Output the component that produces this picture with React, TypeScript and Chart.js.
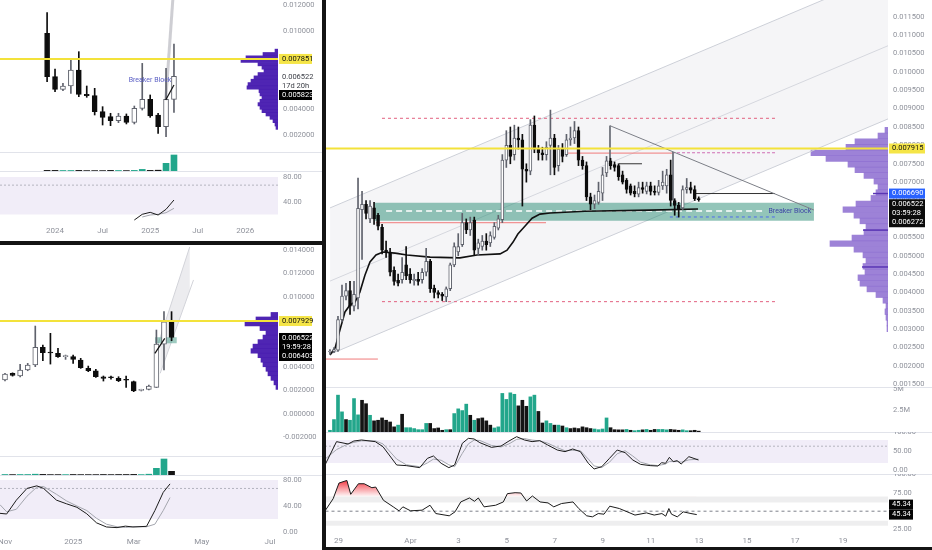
import React, { useEffect, useRef } from 'react';
import { Chart, registerables } from 'chart.js';

Chart.register(...registerables);

const FONT = 'Roboto, "Liberation Sans", Arial, sans-serif';
const TICK = '#8f929b';
const FS = 7.5;
const UP_BODY = '#ffffff';
const UP_LINE = '#5f626c';
const DOWN = '#0d0d0d';
const TEAL = '#22a68b';
const YELLOW = '#f3e23a';
const BAND = 'rgba(126,87,194,0.11)';

/* ================= MAIN PANEL (4h candles, x = days since 29 Mar) ================= */
const mainFirstDay = -1 / 3; // 28 Mar 16:00
const mainStepDay = 1 / 6; // 4 hours
const mainTickDays = [0, 3, 5, 7, 9, 11, 13, 15, 17, 19, 21];
const mainTickLabels = ['29', 'Apr', '3', '5', '7', '9', '11', '13', '15', '17', '19'];
const mainPriceTicks = [0.0015, 0.002, 0.0025, 0.003, 0.0035, 0.004, 0.0045, 0.005, 0.0055, 0.006, 0.0065, 0.007, 0.0075, 0.008, 0.0085, 0.009, 0.0095, 0.01, 0.0105, 0.011, 0.0115];

const mainOpen = [
  0.00238, 0.0024, 0.00243, 0.00326, 0.0039, 0.00405, 0.00363, 0.00385, 0.00625, 0.0064,
  0.006, 0.0063, 0.0061, 0.00577, 0.00515, 0.0051, 0.0046, 0.00433, 0.00435, 0.00475,
  0.0045, 0.00432, 0.00436, 0.00435, 0.00455, 0.00485, 0.00412, 0.004, 0.00395, 0.00388,
  0.0041, 0.00475, 0.0051, 0.0053, 0.0059, 0.0057, 0.00597, 0.0052, 0.00525, 0.0054,
  0.00535, 0.0055, 0.00575, 0.00598, 0.0076, 0.008, 0.00775, 0.0082, 0.00815, 0.00735,
  0.0073, 0.00855, 0.0079, 0.0078, 0.00775, 0.008, 0.0082, 0.00745, 0.0079, 0.00775,
  0.00815, 0.0082, 0.0084, 0.0076, 0.00745, 0.0066, 0.0064, 0.00645, 0.0067, 0.00725,
  0.00758, 0.00748, 0.00745, 0.0072, 0.00705, 0.0069, 0.00675, 0.00667, 0.00685, 0.00675,
  0.0069, 0.00675, 0.00672, 0.0069, 0.0069, 0.0072, 0.0065, 0.00637, 0.0063, 0.0068,
  0.00685, 0.0068, 0.00655,
];
const mainHigh = [
  0.00245, 0.0025, 0.00335, 0.0042, 0.00425, 0.0043, 0.0043, 0.00711, 0.00675, 0.0065,
  0.0065, 0.00645, 0.00615, 0.00585, 0.0054, 0.0052, 0.0047, 0.0045, 0.00495, 0.00525,
  0.00465, 0.0045, 0.00455, 0.00465, 0.0052, 0.0049, 0.0042, 0.00405, 0.004, 0.00415,
  0.0048, 0.00535, 0.0056, 0.00615, 0.006, 0.00605, 0.00605, 0.00545, 0.00555, 0.0056,
  0.00565, 0.0059, 0.0061, 0.00775, 0.0084, 0.0085, 0.00855, 0.0085, 0.0083, 0.0075,
  0.0087, 0.0088, 0.008, 0.00795, 0.0081, 0.00896, 0.0083, 0.008, 0.00805, 0.0083,
  0.0085, 0.00865, 0.0085, 0.0077, 0.00755, 0.0067, 0.00665, 0.007, 0.0074, 0.0077,
  0.00765, 0.00755, 0.0075, 0.0073, 0.0071, 0.00695, 0.0069, 0.007, 0.007, 0.007,
  0.007, 0.0069, 0.00705, 0.0073, 0.00735, 0.0076, 0.00655, 0.00645, 0.0069, 0.0071,
  0.007, 0.0069, 0.0066,
];
const mainLow = [
  0.00232, 0.00236, 0.0024, 0.0032, 0.0038, 0.0034, 0.0035, 0.00355, 0.0049, 0.006,
  0.0059, 0.00585, 0.0057, 0.00505, 0.00495, 0.00445, 0.0042, 0.00418, 0.00425, 0.00435,
  0.00425, 0.0042, 0.0042, 0.00425, 0.00445, 0.004, 0.00385, 0.00385, 0.00378, 0.00375,
  0.00405, 0.0047, 0.005, 0.00525, 0.0056, 0.00555, 0.005, 0.005, 0.00515, 0.00515,
  0.00525, 0.00545, 0.0057, 0.0059, 0.0074, 0.0075, 0.0076, 0.0079, 0.00635, 0.007,
  0.0072, 0.0078, 0.0076, 0.0076, 0.0076, 0.0072, 0.0072, 0.0073, 0.00755, 0.0077,
  0.008, 0.00805, 0.00745, 0.00735, 0.0065, 0.00625, 0.00628, 0.0064, 0.0065, 0.00715,
  0.00735, 0.0073, 0.00705, 0.00695, 0.0067, 0.00665, 0.0066, 0.0066, 0.0067, 0.00668,
  0.00665, 0.00665, 0.00665, 0.0068, 0.0067, 0.00635, 0.0061, 0.00605, 0.00625, 0.0067,
  0.0067, 0.0065, 0.00648,
];
const mainClose = [
  0.0024, 0.00245, 0.00326, 0.0039, 0.00405, 0.00363, 0.00395, 0.00629, 0.0064, 0.00615,
  0.00635, 0.006, 0.0058, 0.00515, 0.0051, 0.00455, 0.0043, 0.00425, 0.00455, 0.00445,
  0.00435, 0.00436, 0.0043, 0.00455, 0.00485, 0.0041, 0.004, 0.00395, 0.0039, 0.0041,
  0.00475, 0.00525, 0.00525, 0.0059, 0.0057, 0.0059, 0.00515, 0.00535, 0.0054, 0.0053,
  0.00555, 0.0058, 0.006, 0.0076, 0.008, 0.0077, 0.0082, 0.00815, 0.00735, 0.0073,
  0.00855, 0.0079, 0.0078, 0.00775, 0.00795, 0.0082, 0.0074, 0.0079, 0.0077, 0.00815,
  0.0082, 0.0084, 0.0076, 0.00745, 0.0066, 0.0064, 0.0065, 0.00675, 0.0072, 0.00758,
  0.00745, 0.0074, 0.00715, 0.007, 0.0068, 0.0067, 0.00668, 0.00685, 0.0068, 0.0069,
  0.00675, 0.00672, 0.0069, 0.007, 0.0072, 0.0065, 0.00637, 0.00628, 0.0068, 0.00685,
  0.00678, 0.00655, 0.006522,
];
const mainVolume = [
  0.2, 1.45, 4.3, 2.35, 1.45, 1.37, 3.9, 2.0, 3.7, 3.3,
  1.95, 1.3, 1.37, 1.64, 1.37, 1.17, 0.6, 0.8, 2.07, 0.5,
  0.5, 0.4, 0.27, 0.27, 1.0, 1.0, 0.4, 0.47, 0.2, 0.27,
  0.27, 2.15, 2.7, 2.5, 3.25, 1.95, 1.37, 1.56, 1.64, 1.3,
  0.8, 0.47, 0.6, 4.5, 3.8, 4.57, 4.4, 3.05, 3.7, 3.0,
  4.1, 4.3, 2.4, 1.05, 1.3, 1.0, 0.8, 0.8, 0.7, 0.5,
  0.4, 0.47, 0.4, 0.6, 0.5, 0.4, 0.35, 0.27, 0.35, 1.64,
  0.5, 0.27, 0.25, 0.25, 0.3, 0.2, 0.15, 0.2, 0.25, 0.3,
  0.2, 0.3, 0.3, 0.3, 0.25, 0.3, 0.25, 0.2, 0.25, 0.15,
  0.15, 0.2, 0.1,
];
const mainVolumeUp = [
  1, 1, 1, 1, 0, 1, 1, 1, 0, 0,
  1, 0, 0, 0, 0, 0, 0, 1, 0, 1,
  1, 1, 1, 1, 1, 0, 0, 0, 0, 1,
  0, 1, 1, 1, 1, 0, 1, 0, 0, 0,
  0, 1, 1, 1, 1, 1, 1, 0, 0, 0,
  1, 1, 0, 0, 1, 1, 0, 1, 0, 1,
  0, 0, 0, 0, 0, 0, 1, 1, 1, 1,
  0, 0, 0, 0, 1, 0, 1, 1, 0, 1,
  0, 0, 1, 1, 1, 0, 0, 0, 1, 1,
  0, 0, 0,
];
const mainMaDays = [-0.33, -0.12, 0.08, 0.29, 0.5, 0.71, 0.91, 1.12, 1.33, 1.58, 1.87, 2.37, 2.87, 3.83, 5.07, 5.78, 6.74, 7.03, 7.28, 7.48, 7.78, 8.07, 8.4, 8.82, 10.27, 12.97, 14.97];
const mainMaValues = [0.0023, 0.00249, 0.00298, 0.00347, 0.00366, 0.00374, 0.00401, 0.00447, 0.00483, 0.00502, 0.0051, 0.00507, 0.00502, 0.00496, 0.00494, 0.00502, 0.00505, 0.00515, 0.00537, 0.00559, 0.00581, 0.00602, 0.00613, 0.00616, 0.00621, 0.00624, 0.00627];

const mainStochDays = [-0.54, -0.06, 0.42, 0.66, 0.98, 1.55, 1.87, 2.44, 2.84, 3.4, 3.72, 3.97, 4.29, 4.61, 4.85, 5.17, 5.42, 5.66, 5.9, 6.38, 6.78, 7.11, 7.43, 7.75, 8.07, 8.39, 8.72, 9.12, 9.44, 9.76, 10.08, 10.41, 10.65, 10.97, 11.29, 11.61, 11.94, 12.26, 12.58, 12.98, 13.3, 13.46, 13.62, 13.78, 13.94, 14.1, 14.27, 14.59, 14.99];
const mainStochK = [14.5, 75.9, 69.7, 77.6, 80.3, 75.9, 62.7, 14.5, 12.8, 7.5, 32.0, 38.2, 18.9, 7.5, 14.5, 71.5, 84.6, 82.9, 73.2, 60.9, 64.4, 77.6, 89.0, 80.3, 75.9, 78.5, 67.1, 53.9, 49.6, 56.6, 49.6, 18.9, 4.0, 10.1, 32.0, 53.9, 46.9, 27.6, 16.2, 12.8, 11.8, 20.6, 18.9, 34.6, 23.2, 25.9, 17.1, 36.4, 27.6];
const mainStochD = [30, 55, 70, 74, 78, 78, 70, 30, 15, 10, 20, 30, 27, 15, 10, 45, 70, 80, 79, 66, 62, 70, 82, 84, 80, 78, 72, 60, 52, 53, 52, 30, 12, 8, 22, 44, 52, 38, 22, 15, 13, 15, 17, 24, 24, 24, 22, 28, 30];

const mainRsiDays = [-0.54, -0.22, 0.02, 0.35, 0.51, 0.83, 1.07, 1.39, 1.55, 1.87, 2.28, 2.52, 2.68, 3.0, 3.48, 3.81, 4.05, 4.61, 4.85, 5.09, 5.45, 5.66, 5.82, 6.06, 6.54, 6.86, 7.03, 7.35, 7.59, 7.83, 8.07, 8.39, 8.72, 8.96, 9.28, 9.76, 10.0, 10.33, 10.57, 10.81, 11.05, 11.29, 11.69, 12.34, 12.82, 13.14, 13.46, 13.62, 13.75, 13.86, 14.1, 14.35, 14.67, 14.91];
const mainRsi = [51.4, 67.1, 88.3, 91.9, 73.0, 87.4, 87.4, 82.0, 82.9, 64.9, 55.9, 50.5, 55.9, 50.5, 51.4, 58.1, 46.8, 43.7, 49.1, 62.6, 68.0, 63.5, 68.0, 55.9, 58.1, 62.6, 73.9, 75.2, 74.8, 63.9, 70.7, 62.6, 61.3, 55.9, 60.4, 62.6, 53.6, 43.7, 42.3, 46.8, 45.9, 56.8, 53.6, 44.7, 47.7, 44.7, 46.8, 43.2, 53.6, 45.9, 42.3, 49.1, 46.8, 45.34];

const mainProfilePrices = [0.0087, 0.00852, 0.00834, 0.00816, 0.00798, 0.0078, 0.00762, 0.00744, 0.00726, 0.00708, 0.0069, 0.00672, 0.00654, 0.00636, 0.00618, 0.006, 0.00582, 0.00564, 0.00546, 0.00528, 0.0051, 0.00492, 0.00474, 0.00456, 0.00438, 0.0042, 0.00402, 0.00384, 0.00366, 0.00348, 0.0033, 0.00312, 0.00294, 0.00276, 0.00258, 0.0024];
const mainProfileVolume = [3, 10, 33, 42, 77, 62, 40, 33, 24, 14, 10, 12, 17, 32, 45, 34, 28, 22, 24, 36, 58, 34, 25, 22, 25, 23, 30, 28, 21, 12, 5, 2, 3, 2, 1, 1];
const mainProfileMarkPrices = [0.00669, 0.00553, 0.00436];
const mainProfileMarkVolume = [15, 25, 26];

// drawings on the main chart (x in days, y in price)
const mainYellow = 0.007915;
const mainChannelDays = [-0.33, 22.87];
const mainChannelUpper = [0.0063, 0.0127];
const mainChannelMid = [0.00431, 0.01071];
const mainChannelLower = [0.00232, 0.00872];
const mainZoneDays = [1.54, 19.79];
const mainZoneTop = 0.00644;
const mainZoneBottom = 0.00595;
const mainZoneMidDays = [2.0, 17.8];
const mainZoneMid = 0.006216;
const mainRangeDays = [1.83, 18.25];
const mainRangeHigh = 0.008737;
const mainRangeLow = 0.00375;
const mainBlueDays = [13.8, 18.25];
const mainBlueLevel = 0.006053;
const mainRedSegStart = [-0.54, 1.58, 9.44];
const mainRedSegEnd = [1.66, 8.65, 13.89];
const mainRedSegLevel = [0.002189, 0.005897, 0.00779];
const mainPinkDays = [13.89, 18.25];
const mainPinkLevel = 0.0078;
const mainTriangleDays = [11.31, 19.79];
const mainTrianglePrices = [0.008535, 0.006242];
const mainVertDays = [11.31, 13.93];
const mainVertTop = [0.008535, 0.00782];
const mainVertBottom = [0.00744, 0.00651];
const mainBlackSegStart = [11.68, 14.84];
const mainBlackSegEnd = [12.64, 18.17];
const mainBlackSegLevel = [0.0075, 0.006691];

/* ================= TOP-LEFT (monthly, x = months since Jan 2024) ================= */
const tlFirstMonth = -1; // Dec 2023
const tlTickMonths = [0, 6, 12, 18, 24];
const tlTickLabels = ['2024', 'Jul', '2025', 'Jul', '2026'];
const tlPriceTicks = [0.002, 0.004, 0.01, 0.012];
const tlOpen = [0.00982, 0.00649, 0.00551, 0.00577, 0.007, 0.00513, 0.00503, 0.0038, 0.00341, 0.0031, 0.00346, 0.00297, 0.00405, 0.00474, 0.00354, 0.00264, 0.00474];
const tlHigh = [0.01141, 0.00708, 0.00598, 0.00785, 0.00841, 0.00577, 0.00559, 0.00418, 0.00367, 0.00367, 0.00362, 0.00423, 0.00751, 0.00508, 0.00367, 0.00713, 0.009];
const tlLow = [0.0061, 0.00533, 0.00541, 0.0052, 0.00495, 0.0049, 0.00354, 0.00277, 0.00272, 0.00295, 0.00285, 0.00285, 0.00392, 0.00336, 0.00213, 0.00187, 0.00374];
const tlClose = [0.00649, 0.00551, 0.00577, 0.007, 0.00513, 0.00503, 0.0038, 0.00336, 0.0031, 0.00346, 0.00297, 0.00405, 0.00474, 0.00346, 0.00264, 0.00474, 0.00652];
const tlVolume = [0.3, 0.3, 0.25, 0.25, 0.3, 0.2, 0.2, 0.2, 0.3, 0.25, 0.2, 0.3, 0.8, 0.3, 0.4, 3.85, 8.0];
const tlStochKMonths = [10, 11, 12, 13, 14, 15];
const tlStochK = [11.2, 20.3, 23.5, 19.2, 28.3, 43.2];
const tlStochDMonths = [11, 12, 13, 14, 15];
const tlStochD = [16, 19.2, 20.3, 22.9, 29.9];
const tlProfilePrices = [0.0088, 0.0085, 0.0082, 0.0079, 0.0076, 0.0073, 0.007, 0.0067, 0.0064, 0.0061, 0.0058, 0.0055, 0.0052, 0.0049, 0.0046, 0.0043, 0.004, 0.0037, 0.0034, 0.0031, 0.0028, 0.0025, 0.0022, 0.0019];
const tlProfileVolume = [3, 15, 32, 37, 20, 16, 14, 20, 24, 27, 30, 31, 19, 18, 16, 18, 20, 18, 16, 12, 8, 5, 3, 2];
const tlYellow = 0.007851;
const tlGrayLineMonths = [13.96, 14.9];
const tlGrayLinePrices = [0.00469, 0.0128];
const tlBlackLineMonths = [13.96, 15.0];
const tlBlackLinePrices = [0.00469, 0.00585];

/* ================= BOTTOM-LEFT (weekly, x = weeks since 4 Nov 2024) ================= */
const blTickWeeks = [0, 9, 17, 26, 35];
const blTickLabels = ['Nov', '2025', 'Mar', 'May', 'Jul'];
const blPriceTicks = [-0.002, 0, 0.002, 0.004, 0.01, 0.012, 0.014];
const blOpen = [0.00289, 0.00345, 0.00323, 0.00374, 0.00417, 0.00568, 0.00522, 0.00517, 0.00488, 0.00488, 0.0046, 0.00388, 0.00368, 0.00317, 0.0031, 0.00303, 0.00288, 0.00275, 0.002, 0.00209, 0.00226, 0.00596, 0.00787];
const blHigh = [0.00345, 0.0035, 0.00423, 0.00431, 0.0075, 0.00588, 0.00688, 0.0056, 0.00502, 0.00502, 0.00474, 0.00408, 0.0038, 0.00323, 0.00323, 0.00317, 0.00323, 0.0028, 0.0021, 0.00245, 0.00716, 0.00873, 0.00873];
const blLow = [0.0028, 0.00322, 0.00315, 0.00368, 0.00403, 0.00454, 0.00425, 0.00482, 0.00465, 0.00431, 0.00388, 0.0036, 0.00311, 0.0028, 0.00295, 0.00275, 0.00226, 0.00189, 0.00195, 0.00205, 0.00225, 0.00375, 0.00625];
const blClose = [0.0034, 0.00328, 0.00374, 0.00417, 0.00568, 0.00522, 0.0052, 0.00488, 0.0049, 0.00465, 0.00394, 0.00368, 0.00317, 0.00303, 0.00308, 0.00283, 0.00287, 0.00195, 0.00207, 0.00237, 0.00596, 0.00787, 0.00652];
const blVolume = [0.5, 0.4, 0.5, 0.5, 0.8, 0.6, 0.4, 0.4, 0.4, 0.5, 0.4, 0.4, 0.4, 0.5, 0.4, 0.5, 0.5, 0.6, 0.4, 0.8, 6.7, 16, 3.7];
const blStochWeeks = [-0.66, 0.22, 1.5, 2.9, 4.2, 5.1, 6.8, 8.1, 9.5, 10.8, 12.1, 13.4, 14.8, 15.9, 16.9, 18.7, 19.8, 20.9, 21.8];
const blStochK = [28.7, 27.7, 49, 67, 71, 67, 49, 43.5, 38, 28, 14, 7.7, 6.7, 9, 7.7, 8.7, 33, 61, 74];
const blStochD = [42, 31, 35, 55, 69, 70, 58, 48, 40, 33, 21, 12, 8, 7, 8, 8, 12, 33, 53];
const blProfilePrices = [0.00881, 0.00838, 0.00795, 0.00752, 0.00709, 0.00666, 0.00623, 0.0058, 0.00537, 0.00494, 0.00451, 0.00408, 0.00365, 0.00322, 0.00279, 0.00236, 0.00193];
const blProfileVolume = [7, 22, 33, 18, 12, 15, 20, 25, 27, 20, 17, 15, 12, 10, 7, 4, 2];
const blYellow = 0.007929;
const blChannelOuterWeeks = [19.8, 24.4];
const blChannelOuter = [0.00512, 0.01426];
const blChannelInnerWeeks = [20.5, 24.9];
const blChannelInner = [0.00346, 0.01144];
const blBlackLineWeeks = [19.8, 21.1];
const blBlackLinePrices = [0.005171, 0.006453];
const blZoneWeeks = [19.8, 22.7];
const blZonePrices = [0.006535, 0.006022];

/* ================= helpers ================= */
const pts = (xs: number[], ys: number[]) => xs.map((x, i) => ({ x, y: ys[i] }));
const hseg = (x0: number, x1: number, y: number) => [{ x: x0, y }, { x: x1, y }];

function L(data: any[], color: string, width: number, order: number, extra: any = {}) {
  return { type: 'line', data, borderColor: color, borderWidth: width, pointRadius: 0, pointHoverRadius: 0, tension: 0, fill: false, order, ...extra };
}

function candleSets(xs: number[], o: number[], h: number[], l: number[], c: number[], bodyW: number, order: number) {
  const up = c.map((v, i) => v >= o[i]);
  return [
    {
      type: 'bar', data: xs.map((x, i) => ({ x, y: [o[i], c[i]] })),
      backgroundColor: up.map((u) => (u ? UP_BODY : DOWN)),
      borderColor: up.map((u) => (u ? UP_LINE : DOWN)),
      borderWidth: 1, borderSkipped: false, barThickness: bodyW, minBarLength: 1, grouped: false, order,
    },
    {
      type: 'bar', data: xs.map((x, i) => ({ x, y: [l[i], h[i]] })),
      backgroundColor: up.map((u) => (u ? UP_LINE : DOWN)),
      barThickness: 1, grouped: false, order: order + 1,
    },
  ];
}

function volumeSet(xs: number[], v: number[], up: boolean[], w: number) {
  return {
    type: 'bar', data: xs.map((x, i) => ({ x, y: v[i] })),
    backgroundColor: up.map((u) => (u ? TEAL : '#141414')),
    barThickness: w, grouped: false, borderWidth: 0,
  };
}

function yRight(min: number, max: number, width: number, ticks?: number[], fmt?: (v: number) => string) {
  return {
    type: 'linear', position: 'right', min, max, display: true,
    grid: { display: false, drawTicks: false }, border: { display: false },
    ticks: {
      display: !!ticks, color: TICK, font: { size: FS, family: FONT }, padding: 5, autoSkip: false,
      callback: (v: any) => (fmt ? fmt(Number(v)) : String(v)),
    },
    afterBuildTicks: (s: any) => { if (ticks) s.ticks = ticks.map((v) => ({ value: v })); },
    afterFit: (s: any) => { s.width = width; s.paddingTop = 0; s.paddingBottom = 0; },
  };
}

function xBottom(min: number, max: number, tickVals?: number[], tickLabels?: string[], height = 0, pad = 4) {
  return {
    type: 'linear', min, max, offset: false, display: !!tickVals,
    grid: { display: false, drawTicks: false }, border: { display: false },
    ticks: {
      display: !!tickVals, color: TICK, font: { size: 8, family: FONT }, padding: pad,
      maxRotation: 0, minRotation: 0, autoSkip: false,
      callback: (v: any) => { const k = tickVals ? tickVals.indexOf(Number(v)) : -1; return k >= 0 && tickLabels ? tickLabels[k] : ''; },
    },
    afterBuildTicks: (s: any) => { if (tickVals) s.ticks = tickVals.map((v) => ({ value: v })); },
    afterFit: (s: any) => { s.height = height; s.paddingLeft = 0; s.paddingRight = 0; },
  };
}

const overlayPlugin = {
  id: 'overlay',
  afterDatasetsDraw(chart: any, _a: any, opts: any) {
    const texts = (opts && opts.texts) || [];
    const { ctx } = chart;
    const xs = chart.scales.x, ys = chart.scales.y;
    for (const t of texts) {
      ctx.save();
      ctx.font = `${t.size || 7}px ${FONT}`;
      ctx.fillStyle = t.color;
      ctx.textAlign = 'center';
      ctx.textBaseline = 'middle';
      ctx.fillText(t.text, xs.getPixelForValue(t.x), ys.getPixelForValue(t.y));
      ctx.restore();
    }
  },
  afterDraw(chart: any, _a: any, opts: any) {
    const boxes = (opts && opts.boxes) || [];
    const { ctx, chartArea } = chart;
    const ys = chart.scales.y;
    for (const b of boxes) {
      const lh = 9;
      const n = b.lines.length;
      const h = lh * n + 1;
      const yc = ys.getPixelForValue(b.value);
      const top = b.anchor === 'top' ? yc + (b.dy || 0) : yc - h / 2 + (b.dy || 0);
      const x0 = chartArea.right + 1;
      ctx.save();
      if (b.bg) {
        ctx.fillStyle = b.bg;
        ctx.fillRect(x0, top, b.width || 36, h);
      }
      ctx.fillStyle = b.color;
      ctx.font = `${FS}px ${FONT}`;
      ctx.textAlign = 'left';
      ctx.textBaseline = 'middle';
      b.lines.forEach((s: string, i: number) => ctx.fillText(s, x0 + 3, top + 0.5 + lh * (i + 0.5)));
      ctx.restore();
    }
  },
};

function base(datasets: any[], scales: any, overlay: any = {}, extra: any = {}) {
  return {
    type: 'bar',
    data: { datasets },
    options: {
      animation: false, responsive: false, maintainAspectRatio: false, events: [],
      layout: { padding: 0 },
      plugins: { legend: { display: false }, tooltip: { enabled: false }, overlay },
      scales,
      ...extra,
    },
    plugins: [overlayPlugin],
  };
}

function profileConfig(prices: number[], vols: number[], color: string, yMin: number, yMax: number, xMax: number, marks: any[] = []) {
  return {
    type: 'bar',
    data: {
      datasets: [
        ...marks,
        { type: 'bar', data: prices.map((p, i) => ({ x: vols[i], y: p })), backgroundColor: color, borderWidth: 0, barPercentage: 1, categoryPercentage: 1 },
      ],
    },
    options: {
      indexAxis: 'y', animation: false, responsive: false, maintainAspectRatio: false, events: [],
      layout: { padding: 0 },
      plugins: { legend: { display: false }, tooltip: { enabled: false } },
      scales: {
        x: { type: 'linear', reverse: true, min: 0, max: xMax, display: false },
        y: { type: 'linear', min: yMin, max: yMax, display: false },
      },
    },
  };
}

function bandSets(x0: number, x1: number, hi: number, lo: number, color: string, order = 40) {
  return [
    L(hseg(x0, x1, hi), 'rgba(0,0,0,0)', 1, order),
    L(hseg(x0, x1, lo), 'rgba(0,0,0,0)', 1, order, { fill: '-1', backgroundColor: color }),
  ];
}

/* ================= ranges ================= */
const M_X: [number, number] = [-0.54, 22.87];
const M_P: [number, number] = [0.001429, 0.011954];
const TL_X: [number, number] = [-6.94, 28.12];
const TL_P: [number, number] = [0.000693, 0.012385];
const BL_X: [number, number] = [-0.66, 36.06];
const BL_P: [number, number] = [-0.003607, 0.014427];

const mainTimes = mainOpen.map((_, i) => mainFirstDay + i * mainStepDay);
const tlTimes = tlOpen.map((_, i) => tlFirstMonth + i);
const blTimes = blOpen.map((_, i) => i);
const priceFmt = (v: number) => v.toFixed(6);

/* ================= chart configs ================= */
function mainPrice() {
  const ds: any[] = [
    L(pts(mainChannelDays, mainChannelUpper), '#cdd0d8', 1, 30),
    L(pts(mainChannelDays, mainChannelLower), '#cdd0d8', 1, 30, { fill: '-1', backgroundColor: 'rgba(118,122,150,0.075)' }),
    L(pts(mainChannelDays, mainChannelMid), '#d5d7de', 1, 29),
    L(hseg(mainZoneDays[0], mainZoneDays[1], mainZoneTop), 'rgba(0,0,0,0)', 1, 25),
    L(hseg(mainZoneDays[0], mainZoneDays[1], mainZoneBottom), 'rgba(0,0,0,0)', 1, 25, { fill: '-1', backgroundColor: 'rgba(40,140,115,0.5)' }),
    L(hseg(mainZoneMidDays[0], mainZoneMidDays[1], mainZoneMid), '#ffffff', 1.3, 24, { borderDash: [6, 4] }),
    L(hseg(mainRangeDays[0], mainRangeDays[1], mainRangeHigh), '#e2607f', 1, 20, { borderDash: [3, 3] }),
    L(hseg(mainRangeDays[0], mainRangeDays[1], mainRangeLow), '#e2607f', 1, 20, { borderDash: [3, 3] }),
    L(hseg(mainBlueDays[0], mainBlueDays[1], mainBlueLevel), '#4f6bed', 1, 20, { borderDash: [3, 3] }),
    L(hseg(mainPinkDays[0], mainPinkDays[1], mainPinkLevel), '#cf6fb5', 1.2, 20, { borderDash: [3, 2] }),
    ...mainRedSegLevel.map((lv, i) => L(hseg(mainRedSegStart[i], mainRedSegEnd[i], lv), '#f07b7b', 1, 20)),
    L(pts(mainTriangleDays, mainTrianglePrices), '#7b7e86', 1, 19),
    ...mainVertDays.map((d, i) => L([{ x: d, y: mainVertTop[i] }, { x: d, y: mainVertBottom[i] }], '#6e7179', 1, 19)),
    ...mainBlackSegLevel.map((lv, i) => L(hseg(mainBlackSegStart[i], mainBlackSegEnd[i], lv), '#333', 1, 19)),
    L(pts(mainMaDays, mainMaValues), '#111', 1.6, 8),
    ...candleSets(mainTimes, mainOpen, mainHigh, mainLow, mainClose, 3, 5),
    L(hseg(M_X[0], M_X[1], mainYellow), YELLOW, 2, 1),
  ];
  return base(ds, {
    x: xBottom(M_X[0], M_X[1]),
    y: yRight(M_P[0], M_P[1], 44, mainPriceTicks, priceFmt),
  }, {
    texts: [{ x: 18.79, y: 0.006207, text: 'Breaker Block', color: '#3f46a6', size: 7 }],
    boxes: [
      { value: mainYellow, lines: ['0.007915'], bg: '#f5e547', color: '#111' },
      { value: 0.00669, lines: ['0.006690'], bg: '#2962ff', color: '#fff' },
      { value: 0.006522, lines: ['0.006522', '03:59:28', '0.006272'], bg: '#0b0b0b', color: '#fff', anchor: 'top', dy: -0.5 },
    ],
  });
}

function mainProfile() {
  const marks = mainProfileMarkPrices.map((p, i) => L([{ x: 0, y: p }, { x: mainProfileMarkVolume[i], y: p }], '#5a35b5', 1.5, 0));
  return profileConfig(mainProfilePrices, mainProfileVolume, 'rgba(140,108,208,0.85)', M_P[0], M_P[1], 188, marks);
}

function mainVolumeCfg() {
  return base([volumeSet(mainTimes, mainVolume, mainVolumeUp.map((u) => u === 1), 3)], {
    x: xBottom(M_X[0], M_X[1]),
    y: yRight(0, 5.25, 44, [2.5, 5], (v) => `${v}M`),
  });
}

function mainStochCfg() {
  return base([
    ...bandSets(M_X[0], M_X[1], 80, 20, BAND),
    L(hseg(M_X[0], M_X[1], 64), '#b4b4bf', 1, 35, { borderDash: [2, 2] }),
    L(pts(mainStochDays, mainStochD), '#a3a5ad', 1, 3),
    L(pts(mainStochDays, mainStochK), '#1b1b1b', 1, 2),
  ], {
    x: xBottom(M_X[0], M_X[1]),
    y: yRight(-9.2, 101.3, 44, [0, 50, 100], (v) => v.toFixed(2)),
  });
}

function mainRsiCfg() {
  const cfg: any = base([
    ...bandSets(M_X[0], M_X[1], 70, 62, 'rgba(120,123,134,0.13)'),
    ...bandSets(M_X[0], M_X[1], 37, 30, 'rgba(120,123,134,0.13)'),
    L(hseg(M_X[0], M_X[1], 50), '#7d808a', 1, 35, { borderDash: [3, 3] }),
    L(pts(mainRsiDays, mainRsi), '#1b1b1b', 1, 2),
  ], {
    x: xBottom(M_X[0], M_X[1], mainTickDays, mainTickLabels, 17, 5),
    y: yRight(23, 100, 44, [25, 75, 100], (v) => v.toFixed(2)),
  }, {
    boxes: [
      { value: 45.34, lines: ['45.34'], bg: '#050505', color: '#fff', width: 24, dy: -10 },
      { value: 45.34, lines: ['45.34'], bg: '#050505', color: '#fff', width: 24 },
    ],
  });
  cfg.ready = (chart: any) => {
    const ys = chart.scales.y;
    const g = chart.ctx.createLinearGradient(0, ys.getPixelForValue(92), 0, ys.getPixelForValue(70));
    g.addColorStop(0, 'rgba(242,40,50,0.95)');
    g.addColorStop(1, 'rgba(242,60,70,0.06)');
    const idx = chart.data.datasets.length - 1;
    chart.data.datasets[idx].fill = { target: { value: 70 }, above: g, below: 'rgba(0,0,0,0)' };
    chart.update('none');
  };
  return cfg;
}

/* ---- top-left ---- */
function tlPrice() {
  return base([
    L(pts(tlGrayLineMonths, tlGrayLinePrices), 'rgba(190,190,196,0.75)', 3, 20),
    L(pts(tlBlackLineMonths, tlBlackLinePrices), '#111', 1.2, 3),
    ...candleSets(tlTimes, tlOpen, tlHigh, tlLow, tlClose, 5, 5),
    L(hseg(TL_X[0], TL_X[1], tlYellow), YELLOW, 2, 1),
  ], {
    x: xBottom(TL_X[0], TL_X[1]),
    y: yRight(TL_P[0], TL_P[1], 44, tlPriceTicks, priceFmt),
  }, {
    texts: [{ x: 11.98, y: 0.006231, text: 'Breaker Block', color: '#5a5ec4', size: 7 }],
    boxes: [
      { value: tlYellow, lines: ['0.007851'], bg: '#f5e547', color: '#111', width: 33 },
      { value: 0.006522, lines: ['0.006522', '17d 20h'], bg: '#ffffff', color: '#3a3d45', width: 33, anchor: 'top', dy: -4.5 },
      { value: 0.005823, lines: ['0.005823'], bg: '#000000', color: '#fff', width: 33, dy: 9.7 },
    ],
  });
}
function tlProfile() {
  return profileConfig(tlProfilePrices, tlProfileVolume, 'rgba(72,28,176,0.96)', TL_P[0], TL_P[1], 98);
}
function tlVolumeCfg() {
  return base([volumeSet(tlTimes, tlVolume, tlClose.map((c, i) => c >= tlOpen[i]), 6)], {
    x: xBottom(TL_X[0], TL_X[1]),
    y: yRight(0, 9.5, 44),
  });
}
function tlStochCfg() {
  return base([
    ...bandSets(TL_X[0], TL_X[1], 80, 20, BAND),
    L(hseg(TL_X[0], TL_X[1], 67), '#b4b4bf', 1, 35, { borderDash: [2, 2] }),
    L(pts(tlStochDMonths, tlStochD), '#a3a5ad', 1, 3),
    L(pts(tlStochKMonths, tlStochK), '#1b1b1b', 1, 2),
  ], {
    x: xBottom(TL_X[0], TL_X[1], tlTickMonths, tlTickLabels, 19, 4),
    y: yRight(8, 88, 44, [40, 80], (v) => v.toFixed(2)),
  });
}

/* ---- bottom-left ---- */
function blPrice() {
  return base([
    L(pts(blChannelOuterWeeks, blChannelOuter), '#d2d3d9', 1, 30),
    L(pts(blChannelInnerWeeks, blChannelInner), '#d2d3d9', 1, 30, { fill: '-1', backgroundColor: 'rgba(150,150,165,0.18)' }),
    L(hseg(blZoneWeeks[0], blZoneWeeks[1], blZonePrices[0]), 'rgba(0,0,0,0)', 1, 25),
    L(hseg(blZoneWeeks[0], blZoneWeeks[1], blZonePrices[1]), 'rgba(0,0,0,0)', 1, 25, { fill: '-1', backgroundColor: 'rgba(40,140,115,0.45)' }),
    L(pts(blBlackLineWeeks, blBlackLinePrices), '#111', 1.2, 3),
    ...candleSets(blTimes, blOpen, blHigh, blLow, blClose, 5, 5),
    L(hseg(BL_X[0], BL_X[1], blYellow), YELLOW, 2, 1),
  ], {
    x: xBottom(BL_X[0], BL_X[1]),
    y: yRight(BL_P[0], BL_P[1], 44, blPriceTicks, priceFmt),
  }, {
    boxes: [
      { value: blYellow, lines: ['0.007929'], bg: '#f5e547', color: '#111', width: 33 },
      { value: 0.006522, lines: ['0.006522', '19:59:28', '0.006403'], bg: '#000000', color: '#fff', width: 33, anchor: 'top', dy: -4.5 },
    ],
  });
}
function blProfile() {
  return profileConfig(blProfilePrices, blProfileVolume, 'rgba(72,28,176,0.96)', BL_P[0], BL_P[1], 98);
}
function blVolumeCfg() {
  return base([volumeSet(blTimes, blVolume, blClose.map((c, i) => c >= blOpen[i]), 6)], {
    x: xBottom(BL_X[0], BL_X[1]),
    y: yRight(0, 19, 44),
  });
}
function blStochCfg() {
  return base([
    ...bandSets(BL_X[0], BL_X[1], 80, 20, BAND),
    L(hseg(BL_X[0], BL_X[1], 67), '#b4b4bf', 1, 35, { borderDash: [2, 2] }),
    L(pts(blStochWeeks, blStochD), '#a3a5ad', 1, 3),
    L(pts(blStochWeeks, blStochK), '#1b1b1b', 1, 2),
  ], {
    x: xBottom(BL_X[0], BL_X[1], blTickWeeks, blTickLabels, 14, 3),
    y: yRight(-3.1, 87.7, 44, [0, 40, 80], (v) => v.toFixed(2)),
  });
}

/* ================= components ================= */
function ChartBox({ x, y, w, h, make, z = 2 }: any) {
  const ref = useRef<HTMLCanvasElement | null>(null);
  useEffect(() => {
    if (!ref.current) return;
    const cfg: any = make();
    const ready = cfg.ready;
    delete cfg.ready;
    const chart = new Chart(ref.current, cfg);
    if (ready) ready(chart);
    return () => chart.destroy();
  }, []);
  return <canvas ref={ref} width={w} height={h} style={{ position: 'absolute', left: x, top: y, width: w, height: h, zIndex: z }} />;
}

function Rule({ x, y, w, h, c, z = 0 }: any) {
  return <div style={{ position: 'absolute', left: x, top: y, width: w, height: h, background: c, zIndex: z }} />;
}

export default function App() {
  const sep = '#e1e3ea';
  return (
    <div style={{ position: 'fixed', left: 0, top: 0, width: 932, height: 550, background: '#ffffff', overflow: 'hidden' }}>
      {/* pane separators */}
      <Rule x={0} y={152} w={322} h={1} c={sep} />
      <Rule x={0} y={171} w={322} h={1} c={sep} />
      <Rule x={0} y={456} w={322} h={1} c={sep} />
      <Rule x={0} y={475} w={322} h={1} c={sep} />
      <Rule x={326} y={387} w={606} h={1} c={sep} />
      <Rule x={326} y={432} w={606} h={1} c={sep} />
      <Rule x={326} y={474} w={606} h={1} c={sep} />

      {/* top-left monthly */}
      <ChartBox x={180} y={0} w={98} h={152} make={tlProfile} z={1} />
      <ChartBox x={0} y={0} w={322} h={152} make={tlPrice} />
      <ChartBox x={0} y={152} w={322} h={19} make={tlVolumeCfg} />
      <ChartBox x={0} y={172} w={322} h={69} make={tlStochCfg} />

      {/* bottom-left weekly */}
      <ChartBox x={180} y={245} w={98} h={211} make={blProfile} z={1} />
      <ChartBox x={0} y={245} w={322} h={211} make={blPrice} />
      <ChartBox x={0} y={456} w={322} h={19} make={blVolumeCfg} />
      <ChartBox x={0} y={475} w={322} h={73} make={blStochCfg} />

      {/* main 4h */}
      <ChartBox x={700} y={0} w={188} h={387} make={mainProfile} z={1} />
      <ChartBox x={325} y={0} w={607} h={387} make={mainPrice} />
      <ChartBox x={325} y={387} w={607} h={45} make={mainVolumeCfg} />
      <ChartBox x={325} y={432} w={607} h={42} make={mainStochCfg} />
      <ChartBox x={325} y={474} w={607} h={74} make={mainRsiCfg} />

      {/* panel frames */}
      <Rule x={322} y={0} w={4} h={550} c="#141414" z={10} />
      <Rule x={0} y={241} w={322} h={4} c="#141414" z={10} />
      <Rule x={322} y={547} w={610} h={3} c="#141414" z={10} />
    </div>
  );
}
